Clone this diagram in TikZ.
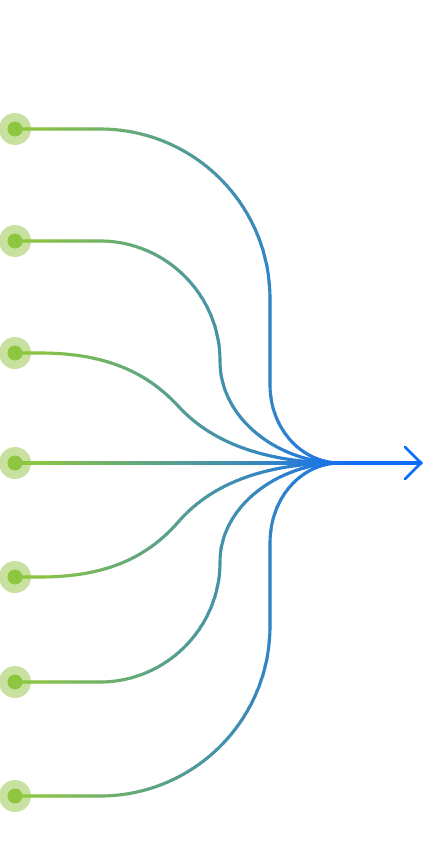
\documentclass[tikz,border=0pt]{standalone}
\usepackage{tikz}
\definecolor{mygreen}{RGB}{141,198,63}
\definecolor{myblue}{RGB}{16,108,246}
\definecolor{halocol}{RGB}{200,225,160}
\definecolor{arrowcol}{RGB}{10,108,250}
\tikzset{
  flow/.style={line width=3.1pt, line cap=round, line join=round},
  halo/.style={circle, fill=halocol, inner sep=0pt, minimum size=32pt},
  dot/.style={circle, fill=mygreen, inner sep=0pt, minimum size=15pt},
  chevron/.style={arrowcol, line width=2.8pt, line cap=round, line join=miter}
}
\newcommand\allflows[1]{%
  \draw[#1, flow] (h1.center) -- (100,129) .. controls (194,129) and (270,205) .. (270,299) -- (270,385) .. controls (270,428) and (301,463) .. (340,463);
  \draw[#1, flow] (h2.center) -- (100,241) .. controls (166,241) and (220,295) .. (220,361) .. controls (220,420) and (280,463) .. (340,463);
  \draw[#1, flow] (h3.center) -- (40,353) .. controls (110,353) and (150,375) .. (180,408) .. controls (215,445) and (270,463) .. (340,463);
  \draw[#1, flow] (h4.center) -- (tip);
  \draw[#1, flow] (h5.center) -- (40,577) .. controls (110,577) and (150,555) .. (180,520) .. controls (215,481) and (270,463) .. (340,463);
  \draw[#1, flow] (h6.center) -- (100,682) .. controls (166,682) and (220,628) .. (220,562) .. controls (220,505) and (280,463) .. (340,463);
  \draw[#1, flow] (h7.center) -- (100,796) .. controls (194,796) and (270,720) .. (270,626) -- (270,543) .. controls (270,498) and (301,463) .. (340,463);
}
\begin{document}
\begin{tikzpicture}[x=1pt,y=-1pt]
\useasboundingbox (0,0) rectangle (424,864);
\fill[white] (0,0) rectangle (424,864);
\node[halo] (h1) at (15,129) {};
\node[halo] (h2) at (15,241) {};
\node[halo] (h3) at (15,353) {};
\node[halo] (h4) at (15,463) {};
\node[halo] (h5) at (15,577) {};
\node[halo] (h6) at (15,682) {};
\node[halo] (h7) at (15,796) {};
\coordinate (tip) at (421,463);
\coordinate (armA) at (405,447);
\coordinate (armB) at (405,479);
\foreach \i in {0,...,105} {
  \pgfmathsetmacro\xa{\i*4}
  \pgfmathsetmacro\tt{min(max((\xa+2-30)/330,0),1)*100}
  \colorlet{cur}{myblue!\tt!mygreen}
  \begin{scope}
    \clip (\xa-0.4,0) rectangle (\xa+4.4,864);
    \allflows{cur}
  \end{scope}
}
\draw[chevron] (armA) -- (tip) -- (armB);
\node[dot] (d1) at (h1.center) {};
\node[dot] (d2) at (h2.center) {};
\node[dot] (d3) at (h3.center) {};
\node[dot] (d4) at (h4.center) {};
\node[dot] (d5) at (h5.center) {};
\node[dot] (d6) at (h6.center) {};
\node[dot] (d7) at (h7.center) {};
\end{tikzpicture}
\end{document}
